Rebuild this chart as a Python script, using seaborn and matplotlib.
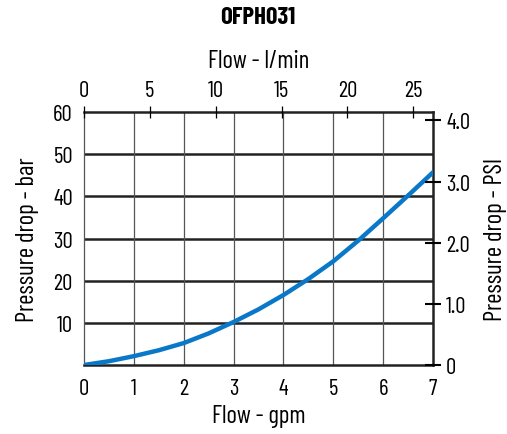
import matplotlib
matplotlib.use("Agg")
import matplotlib.pyplot as plt
import seaborn as sns
import pandas as pd

# curve (flow in gpm, pressure drop on left scale)
flow_gpm = [0, 0.5, 1, 1.5, 2, 2.5, 3, 3.5, 4, 4.5, 5, 5.5, 6, 6.5, 7]
pressure = [0, 0.9, 2.1, 3.5, 5.2, 7.5, 10.2, 13.2, 16.6, 20.4, 24.6, 29.5, 34.8, 40.2, 45.7]

gpm_ticks = [0, 1, 2, 3, 4, 5, 6, 7]
lpm_ticks = [0, 5, 10, 15, 20, 25]
bar_ticks = [10, 20, 30, 40, 50, 60]
psi_ticks = [0, 1, 2, 3, 4]
psi_labels = ["0", "1.0", "2.0", "3.0", "4.0"]

sns.set_style("white")
plt.rcParams["font.family"] = ["Barlow Condensed", "DejaVu Sans"]
plt.rcParams["font.stretch"] = "condensed"
plt.rcParams["text.color"] = "black"
plt.rcParams["axes.labelcolor"] = "black"
plt.rcParams["xtick.color"] = "black"
plt.rcParams["ytick.color"] = "black"

TICK_FS = 16.5
LABEL_FS = 18

df = pd.DataFrame({"gpm": flow_gpm, "dp": pressure})

fig = plt.figure(figsize=(5.07, 4.35), dpi=100)
ax = fig.add_axes([0.1657, 0.1586, 0.6884, 0.5816])

for y in bar_ticks[:-1]:
    ax.axhline(y, color="#222222", lw=1.8, zorder=1)
for x in gpm_ticks[1:-1]:
    ax.axvline(x, color="#555555", lw=0.9, zorder=1)

sns.lineplot(data=df, x="gpm", y="dp", ax=ax, color="#0a78c8", lw=3.2, zorder=3)

ax.set_xlim(0, 7)
ax.set_ylim(0, 60)
ax.set_xticks(gpm_ticks)
ax.set_yticks(bar_ticks)
ax.tick_params(axis="x", length=0, labelsize=TICK_FS, pad=9)
ax.tick_params(axis="y", length=0, labelsize=TICK_FS, pad=8)
ax.set_xlabel("Flow - gpm", fontsize=LABEL_FS, labelpad=4)
ax.set_ylabel("Pressure drop - bar", fontsize=LABEL_FS, labelpad=10)

ax.spines["left"].set_color("#555555")
ax.spines["left"].set_linewidth(0.9)
for s in ["bottom", "top", "right"]:
    ax.spines[s].set_color("#222222")
    ax.spines[s].set_linewidth(1.8)

# top axis: l/min
axt = ax.twiny()
axt.set_xlim(0, 7 * 3.785)
axt.set_xticks(lpm_ticks)
axt.tick_params(axis="x", direction="inout", length=8, width=0.9, labelsize=TICK_FS, pad=4)
axt.set_xlabel("Flow - l/min", fontsize=LABEL_FS, labelpad=9)

# right axis: PSI
axr = ax.twinx()
axr.set_ylim(0, 60 / 14.5)
axr.set_yticks(psi_ticks)
axr.set_yticklabels(psi_labels)
axr.tick_params(axis="y", direction="inout", length=11, width=1.5, labelsize=TICK_FS, pad=4)
axr.set_ylabel("Pressure drop - PSI", fontsize=LABEL_FS, labelpad=10)

for a in [axt, axr]:
    for s in a.spines.values():
        s.set_visible(False)

fig.text(258 / 507, 1 - 18 / 435, "OFPH031", fontsize=18, fontweight="bold",
         ha="center", va="center")

fig.savefig("out.png", dpi=100)
